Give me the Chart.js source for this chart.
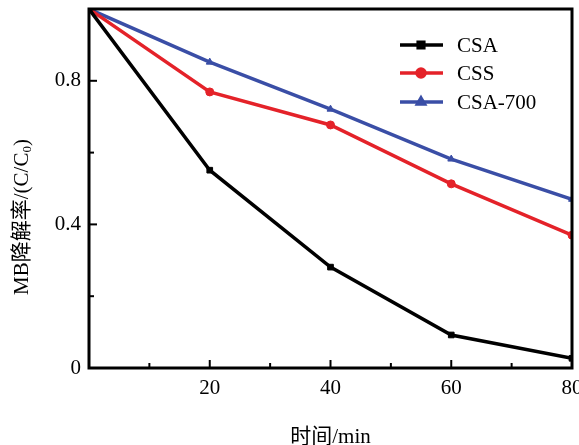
<!DOCTYPE html>
<html lang="zh">
  <head>
    <meta charset="UTF-8" />
    <title>MB degradation</title>
    <script src="https://cdn.jsdelivr.net/npm/chart.js@4"></script>
    <style>
      html, body {
        margin: 0;
        padding: 0;
        background: #fff;
      }
      #wrap {
        width: 579px;
        height: 445px;
      }
    </style>
  </head>
  <body>
    <div id="wrap"><canvas id="chart" width="579" height="445"></canvas></div>

    <script>
      // data
      const times = [0, 20, 40, 60, 80];
      const csa = [1.0, 0.551, 0.281, 0.092, 0.027];
      const css = [1.0, 0.769, 0.677, 0.513, 0.37];
      const csa700 = [1.0, 0.852, 0.721, 0.582, 0.47];
      const seriesNames = ["CSA", "CSS", "CSA-700"];
      const xTicks = [20, 40, 60, 80];
      const yTicks = [0, 0.4, 0.8];

      const FONT = "'Liberation Serif', 'Noto Sans CJK SC', serif";

      function pts(ys) {
        return times.map((t, i) => ({ x: t, y: ys[i] }));
      }

      function line(label, ys, color, style) {
        return {
          label: label,
          data: pts(ys),
          borderColor: color,
          backgroundColor: color,
          borderWidth: 3.5,
          pointStyle: style,
          pointRadius: 4,
          pointHoverRadius: 4,
          pointBorderWidth: 1,
          tension: 0,
        };
      }

      // no auto padding for overhanging tick labels
      function noPad(s) {
        s.paddingLeft = 0;
        s.paddingRight = 0;
        s.paddingTop = 0;
        s.paddingBottom = 0;
      }

      // box, inward tick marks, legend and axis titles
      const decor = {
        id: "decor",
        afterDraw(chart) {
          const ctx = chart.ctx;
          const a = chart.chartArea;
          const x = chart.scales.x;
          const y = chart.scales.y;
          ctx.save();
          ctx.strokeStyle = "#000";
          ctx.lineWidth = 3;
          ctx.strokeRect(a.left, a.top, a.right - a.left, a.bottom - a.top);

          ctx.lineWidth = 2;
          for (let v = 10; v < 80; v += 10) {
            const px = x.getPixelForValue(v);
            const len = v % 20 === 0 ? 8 : 5;
            ctx.beginPath();
            ctx.moveTo(px, a.bottom);
            ctx.lineTo(px, a.bottom - len);
            ctx.stroke();
          }
          for (let v = 0.2; v < 1; v += 0.2) {
            const py = y.getPixelForValue(v);
            const major = Math.abs(v - 0.4) < 0.01 || Math.abs(v - 0.8) < 0.01;
            ctx.beginPath();
            ctx.moveTo(a.left, py);
            ctx.lineTo(a.left + (major ? 8 : 5), py);
            ctx.stroke();
          }

          // legend
          ctx.font = "21px " + FONT;
          ctx.textBaseline = "middle";
          ctx.textAlign = "left";
          const rows = [45, 73, 102];
          chart.data.datasets.forEach((ds, i) => {
            const ry = rows[i];
            ctx.strokeStyle = ds.borderColor;
            ctx.lineWidth = 3.5;
            ctx.beginPath();
            ctx.moveTo(400, ry);
            ctx.lineTo(443, ry);
            ctx.stroke();
            Chart.helpers.drawPoint(
              ctx,
              { pointStyle: ds.pointStyle, radius: 4, borderWidth: 1 },
              421,
              ry
            );
            ctx.fillStyle = ds.borderColor;
            ctx.fill();
            ctx.fillStyle = "#000";
            ctx.fillText(ds.label, 457, ry + 1);
          });

          // x title
          ctx.textAlign = "center";
          ctx.fillStyle = "#000";
          ctx.fillText("时间/min", (a.left + a.right) / 2, 437);

          // y title with subscript
          ctx.translate(22, 217);
          ctx.rotate(-Math.PI / 2);
          const main = "MB降解率/(C/C";
          ctx.font = "21px " + FONT;
          const w1 = ctx.measureText(main).width;
          ctx.font = "13px " + FONT;
          const w2 = ctx.measureText("0").width;
          ctx.font = "21px " + FONT;
          const w3 = ctx.measureText(")").width;
          let sx = -(w1 + w2 + w3) / 2;
          ctx.textAlign = "left";
          ctx.fillText(main, sx, 0);
          sx += w1;
          ctx.font = "13px " + FONT;
          ctx.fillText("0", sx, 6);
          sx += w2;
          ctx.font = "21px " + FONT;
          ctx.fillText(")", sx, 0);
          ctx.restore();
        },
      };

      const config = {
        type: "line",
        data: {
          datasets: [
            line(seriesNames[0], csa, "#000000", "rect"),
            line(seriesNames[1], css, "#e42229", "circle"),
            line(seriesNames[2], csa700, "#3a4ea6", "triangle"),
          ],
        },
        options: {
          responsive: false,
          animation: false,
          layout: { padding: { left: 0, right: 7, top: 9, bottom: 0 } },
          plugins: {
            legend: { display: false },
            tooltip: { enabled: false },
          },
          scales: {
            x: {
              type: "linear",
              min: 0,
              max: 80,
              grid: { display: false, drawTicks: false },
              border: { display: false },
              afterFit(s) {
                s.height = 77;
                noPad(s);
              },
              afterBuildTicks(s) {
                s.ticks = xTicks.map((v) => ({ value: v }));
              },
              ticks: {
                padding: 8,
                color: "#000",
                font: { family: FONT, size: 21 },
              },
            },
            y: {
              min: 0,
              max: 1,
              grid: { display: false, drawTicks: false },
              border: { display: false },
              afterFit(s) {
                s.width = 89;
                noPad(s);
              },
              afterBuildTicks(s) {
                s.ticks = yTicks.map((v) => ({ value: v }));
              },
              ticks: {
                padding: 8,
                color: "#000",
                font: { family: FONT, size: 21 },
                callback: (v) => (v === 0 ? "0" : v.toFixed(1)),
              },
            },
          },
        },
        plugins: [decor],
      };

      const chart = new Chart(document.getElementById("chart"), config);
    </script>
  </body>
</html>
